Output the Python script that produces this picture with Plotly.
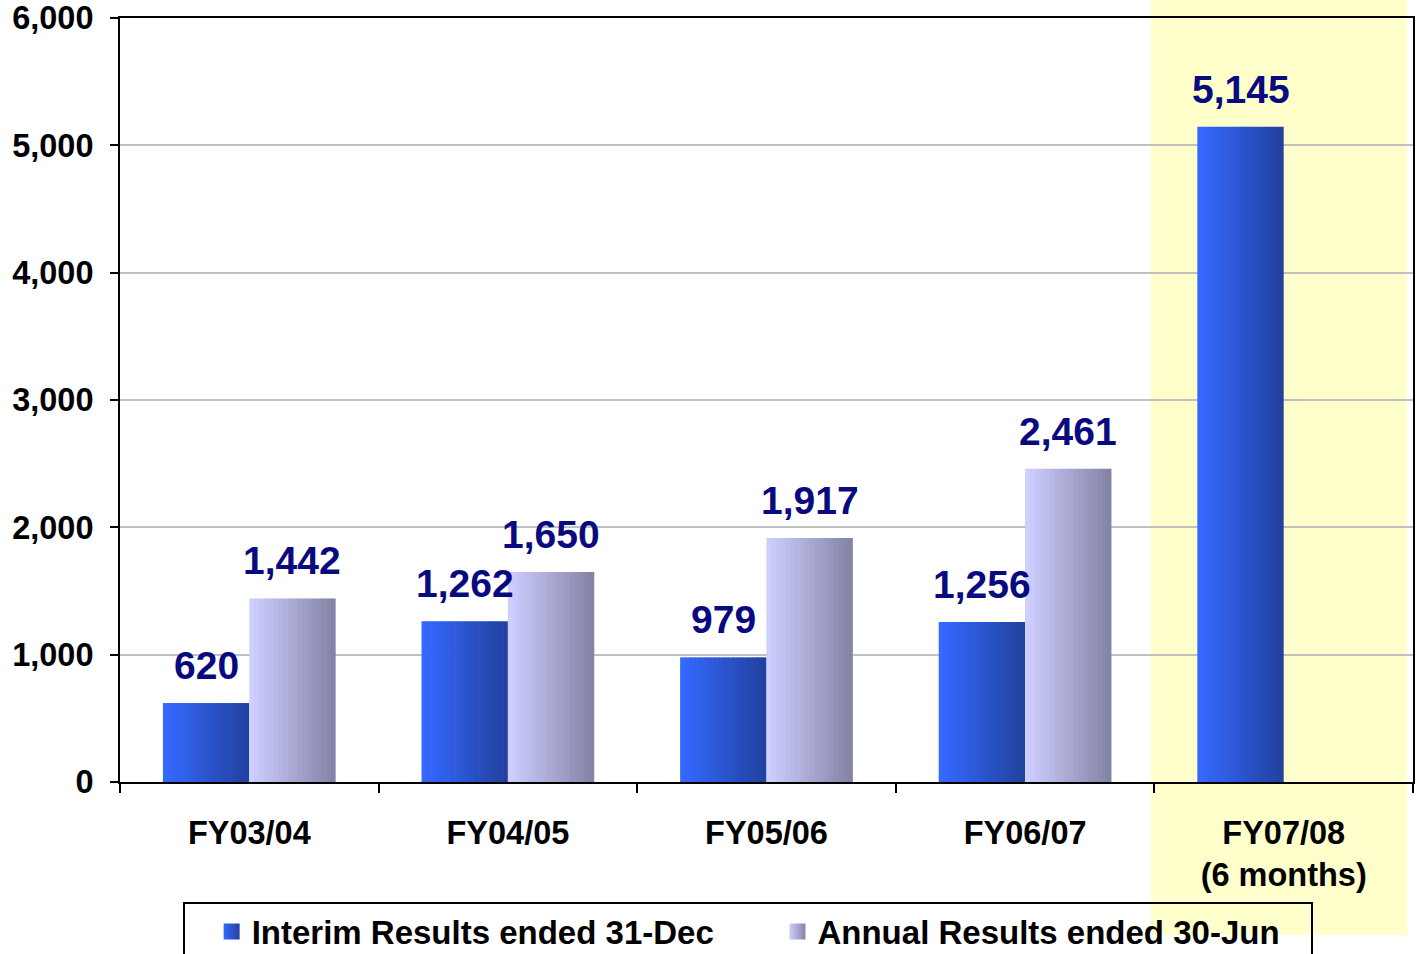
import plotly.graph_objects as go

categories = ["FY03/04", "FY04/05", "FY05/06", "FY06/07", "FY07/08<br>(6 months)"]
interim = [620, 1262, 979, 1256, 5145]
annual = [1442, 1650, 1917, 2461, None]
series_names = ["Interim Results ended 31-Dec", "Annual Results ended 30-Jun"]
y_ticks = [0, 1000, 2000, 3000, 4000, 5000, 6000]

BAR_W = 0.334
N = 18

def rgb(c):
    return "rgb(%d,%d,%d)" % c

def lerp(c1, c2, t):
    return rgb(tuple(round(a + (b - a) * t) for a, b in zip(c1, c2)))

blue_l, blue_r = (52, 104, 255), (34, 66, 160)
lav_l, lav_r = (206, 206, 255), (132, 132, 168)

fig = go.Figure()

def add_gradient(values, base_off, cl, cr, name):
    for i in range(N):
        t = i / (N - 1)
        fig.add_trace(go.Bar(
            x=categories, y=values, offset=base_off + i * BAR_W / N,
            width=BAR_W / N * 1.15 if i < N - 1 else BAR_W / N,
            marker=dict(color=lerp(cl, cr, t), line=dict(width=0)),
            showlegend=False, hoverinfo="skip", name=name,
        ))

add_gradient(interim, -BAR_W, blue_l, blue_r, series_names[0])
add_gradient(annual, 0, lav_l, lav_r, series_names[1])

# legend-only entries (square swatches with horizontal gradient); trailing spaces pad spacing
legend_pad = ["\u2003\u2002\u00a0", "\u2002\u00a0"]
for name, pad, cl, cr in [(series_names[0], legend_pad[0], blue_l, blue_r),
                          (series_names[1], legend_pad[1], lav_l, lav_r)]:
    fig.add_trace(go.Scatter(
        x=[categories[0]], y=[None], mode="markers", name=name + pad, hoverinfo="skip",
        marker=dict(symbol="square", size=18, color=rgb(cl), line=dict(width=0),
                    gradient=dict(type="horizontal", color=rgb(cr)))))

label_font = dict(family="Arial, Liberation Sans, sans-serif", size=39, color="#0a0a80",
                  weight="bold")
for cat, v in zip(categories, interim):
    if v is not None:
        fig.add_annotation(x=cat, y=v, text=f"{v:,}", showarrow=False, xshift=-43,
                           yanchor="bottom", yshift=14, font=label_font)
for cat, v in zip(categories, annual):
    if v is not None:
        fig.add_annotation(x=cat, y=v, text=f"{v:,}", showarrow=False, xshift=43,
                           yanchor="bottom", yshift=14, font=label_font)

# highlighted area for FY07/08
fig.add_shape(type="rect", xref="paper", yref="paper",
              x0=0.7974, x1=0.9954, y0=-0.2003, y1=1.0236,
              fillcolor="#FFFFCC", line=dict(width=0), layer="below")

font_main = dict(family="Arial, Liberation Sans, sans-serif", size=32.5, color="black",
                 weight="bold")
legend_font = dict(family="Arial, Liberation Sans, sans-serif", size=33, color="black",
                   weight="bold")

fig.update_layout(
    width=1416, height=954,
    margin=dict(l=120, r=3, t=18, b=172, autoexpand=False),
    barmode="overlay",
    plot_bgcolor="rgba(0,0,0,0)", paper_bgcolor="white",
    font=font_main,
    showlegend=True,
    legend=dict(orientation="h", x=0.0487, y=-0.1565, xanchor="left", yanchor="top",
                bgcolor="rgba(0,0,0,0)", bordercolor="black", borderwidth=2,
                font=legend_font, traceorder="normal",
                title=dict(text="\u00a0\u00a0\u00a0", side="left",
                           font=dict(size=20))),
    xaxis=dict(type="category", showline=True, linecolor="black", linewidth=2, mirror=True,
               ticks="outside", tickson="boundaries", ticklen=9, tickwidth=2, tickcolor="black",
               showgrid=False, tickfont=font_main, range=[-0.5, 4.5], ticklabelstandoff=21),
    yaxis=dict(range=[0, 6000], tickvals=y_ticks, tickformat=",", showline=True,
               linecolor="black", linewidth=2, mirror=True, ticks="outside", ticklen=8,
               tickwidth=2, tickcolor="black", showgrid=True, gridcolor="#C0C0C0",
               gridwidth=2, tickfont=font_main, ticklabelstandoff=10, zeroline=False),
)

fig.write_html("out.html")
